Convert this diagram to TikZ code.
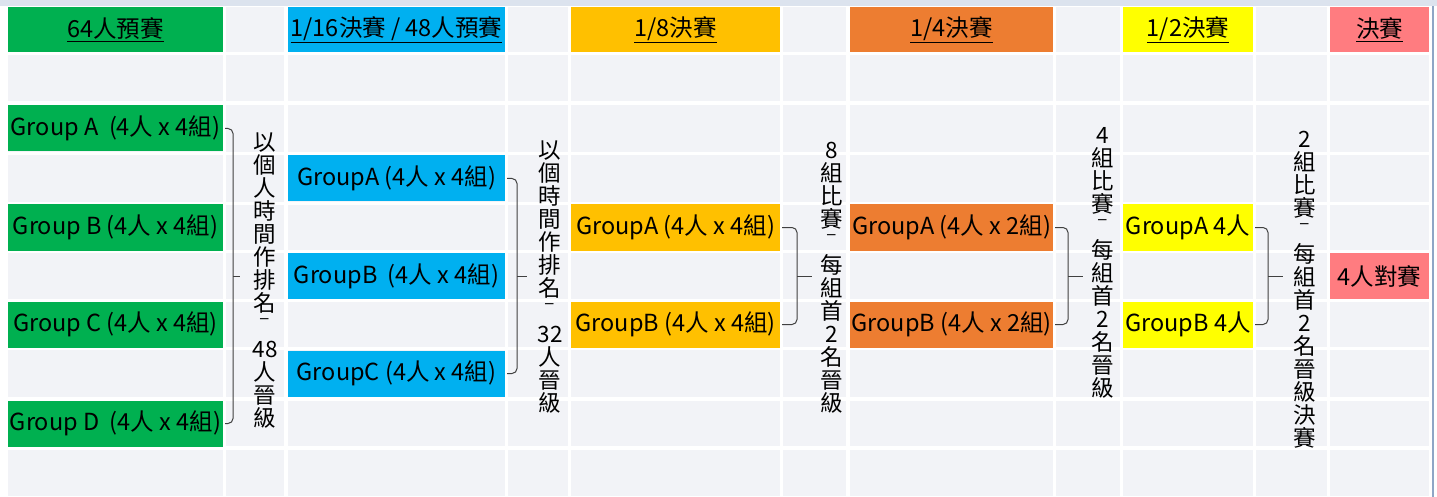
\documentclass[tikz,border=0pt]{standalone}
\usepackage{fontspec}
\setmainfont{Noto Sans CJK TC}
\usetikzlibrary{calc}
\definecolor{grpgreen}{HTML}{00B050}
\definecolor{grpblue}{HTML}{00B0F0}
\definecolor{grpgold}{HTML}{FFC000}
\definecolor{grporange}{HTML}{ED7D31}
\definecolor{grpyellow}{HTML}{FFFF00}
\definecolor{grppink}{HTML}{FF7C80}
\definecolor{cellgrey}{HTML}{F2F3F7}
\definecolor{topstrip}{HTML}{DCE3EE}
\definecolor{edgeblue}{HTML}{8FA6C6}
\tikzset{
  box/.style={inner sep=0pt, minimum height=46pt, font=\fontsize{23.5}{25}\selectfont},
  brace/.style={draw=black!75, line width=1pt, rounded corners=5pt},
  vtext/.style={align=center, inner sep=0pt, font=\fontsize{22.5}{23}\selectfont},
}

\begin{document}
\begin{tikzpicture}[x=1pt,y=-1pt]
\useasboundingbox (0,0) rectangle (1437,497);
\fill[white] (0,0) rectangle (1437,497);
\fill[topstrip] (0,0) rectangle (1437,6);
\draw[edgeblue, line width=1.5pt] (1433,6) -- (1433,497);
% sheet cells
\foreach \xl/\xr in {8/223,226/284,288/505,508/568,571/780,783/846,850/1053,1056/1120,1123/1253,1256/1327,1330/1429}
  \foreach \yt/\yb in {7/52,55/101,105/152,155/202,205/250,253/299,302/347,350/397,401/446,450/496}
    \fill[cellgrey] (\xl,\yt) rectangle (\xr,\yb);

% headers
\node[box, fill=grpgreen, minimum width=215pt, minimum height=45pt] (h64) at (115.5,29.5) {\underline{64人預賽}};
\node[box, fill=grpblue, minimum width=217pt, minimum height=45pt] (h16) at (396.5,29.5) {\underline{1/16決賽 / 48人預賽}};
\node[box, fill=grpgold, minimum width=209pt, minimum height=45pt] (h8) at (675.5,29.5) {\underline{1/8決賽}};
\node[box, fill=grporange, minimum width=203pt, minimum height=45pt] (h4) at (951.5,29.5) {\underline{1/4決賽}};
\node[box, fill=grpyellow, minimum width=130pt, minimum height=45pt] (h2) at (1188,29.5) {\underline{1/2決賽}};
\node[box, fill=grppink, minimum width=99pt, minimum height=45pt] (hfin) at (1379.5,29.5) {\underline{決賽}};

% 64
\node[box, fill=grpgreen, minimum width=215pt] (g64a) at (115.5,128.5) {Group A\ \ (4人 x 4組)};
\node[box, fill=grpgreen, minimum width=215pt] (g64b) at (115.5,227.5) {Group B (4人 x 4組)};
\node[box, fill=grpgreen, minimum width=215pt] (g64c) at (115.5,324.5) {Group C (4人 x 4組)};
\node[box, fill=grpgreen, minimum width=215pt] (g64d) at (115.5,423.5) {Group D\ \ (4人 x 4組)};
% 1/16
\node[box, fill=grpblue, minimum width=217pt] (g16a) at (396.5,178.5) {GroupA (4人 x 4組)};
\node[box, fill=grpblue, minimum width=217pt] (g16b) at (396.5,276) {GroupB\ \ (4人 x 4組)};
\node[box, fill=grpblue, minimum width=217pt] (g16c) at (396.5,373.5) {GroupC (4人 x 4組)};
% 1/8
\node[box, fill=grpgold, minimum width=209pt] (g8a) at (675.5,227.5) {GroupA (4人 x 4組)};
\node[box, fill=grpgold, minimum width=209pt] (g8b) at (675.5,324.5) {GroupB (4人 x 4組)};
% 1/4
\node[box, fill=grporange, minimum width=203pt] (g4a) at (951.5,227.5) {GroupA (4人 x 2組)};
\node[box, fill=grporange, minimum width=203pt] (g4b) at (951.5,324.5) {GroupB (4人 x 2組)};
% 1/2
\node[box, fill=grpyellow, minimum width=130pt] (g2a) at (1188,227.5) {GroupA 4人};
\node[box, fill=grpyellow, minimum width=130pt] (g2b) at (1188,324.5) {GroupB 4人};
% final
\node[box, fill=grppink, minimum width=99pt] (fin) at (1379.5,276) {4人對賽};

% brackets
\coordinate (k64) at (233,276);
\coordinate (k16) at (517,276);
\coordinate (k8) at (797,276);
\coordinate (k4) at (1068,276);
\coordinate (k2) at (1268,276);
\draw[brace] ([xshift=2pt]g64a.east) -| (k64) |- ([xshift=2pt]g64d.east);
\draw[brace] (k64) -- ++(7,0);
\draw[brace] ([xshift=2pt]g16a.east) -| (k16) |- ([xshift=2pt]g16c.east);
\draw[brace] (k16) -- ++(10,0);
\draw[brace] ([xshift=2pt]g8a.east) -| (k8) |- ([xshift=2pt]g8b.east);
\draw[brace] (k8) -- ++(15,0);
\draw[brace] ([xshift=2pt]g4a.east) -| (k4) |- ([xshift=2pt]g4b.east);
\draw[brace] (k4) -- ++(15,0);
\draw[brace] ([xshift=2pt]g2a.east) -| (k2) |- ([xshift=2pt]g2b.east);
\draw[brace] (k2) -- ++(15,0);

% rules between rounds
\node[vtext] (r64) at (265,281) {以\\個\\人\\時\\間\\作\\排\\名\\ˉ\\48\\人\\晉\\級};
\node[vtext] (r16) at (550,277) {以\\個\\時\\間\\作\\排\\名\\ˉ\\32\\人\\晉\\級};
\node[vtext] (r8) at (832,278) {8\\組\\比\\賽\\ˉ\\每\\組\\首\\2\\名\\晉\\級};
\node[vtext] (r4) at (1103,263) {4\\組\\比\\賽\\ˉ\\每\\組\\首\\2\\名\\晉\\級};
\node[vtext] (r2) at (1305,290) {2\\組\\比\\賽\\ˉ\\每\\組\\首\\2\\名\\晉\\級\\決\\賽};
\end{tikzpicture}
\end{document}
